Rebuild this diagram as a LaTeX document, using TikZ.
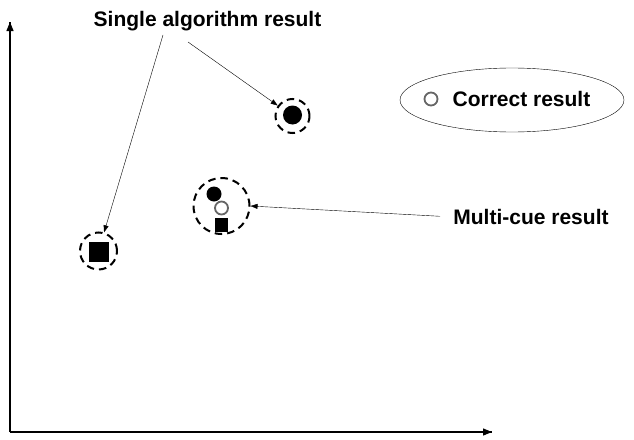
\documentclass[tikz,border=0pt]{standalone}
\usepackage{fontspec}
\setmainfont{Liberation Sans}
\usetikzlibrary{positioning, arrows.meta, decorations.markings, shapes.geometric}
\definecolor{ringgray}{HTML}{666666}

\begin{document}
\begin{tikzpicture}[%
		x=1pt, y=-1pt,
		result/.style={
			circle,
			fill=black,
			inner sep=0pt
		},
		resultsq/.style={
			rectangle,
			fill=black,
			inner sep=0pt
		},
		truth/.style={
			circle,
			draw=ringgray,
			line width=1.8pt,
			inner sep=0pt,
			minimum size=13pt
		},
		ring/.style={
			circle,
			draw,
			line width=2pt,
			dash pattern=on 7.5pt off 5pt,
			inner sep=0pt
		},
		rlabel/.style={
			font=\fontsize{21}{24}\selectfont\bfseries,
			inner sep=0pt
		},
		legendbox/.style={
			ellipse,
			draw,
			thin,
			minimum width=224pt,
			minimum height=64pt
		},
		resultarrow/.style={
			thin,
			decoration={markings,mark=at position 1 with {\arrow{Triangle[length=7pt,width=5pt]}}},
			postaction={decorate}
		},
		axisarrow/.style={
			line width=1.2pt,
			decoration={markings,mark=at position 1 with {\arrow{Triangle[length=9pt,width=7pt]}}},
			postaction={decorate}
		}]

		\useasboundingbox (0,0) rectangle (634,439);

		% AXES

		\coordinate (origin) at (10,432);
		\coordinate (ytop) at (10,22);
		\coordinate (xend) at (492,432);
		\draw[axisarrow] (origin) -- (ytop);
		\draw[axisarrow] (origin) -- (xend);

		% SINGLE ALGORITHM RESULTS

		\node (dotA) [result, minimum size=19pt] at (292.5,115) {};
		\node (ringA) [ring, minimum size=34pt] at (292.5,116) {};

		\node (sqA) [resultsq, minimum size=20pt] at (98.5,252) {};
		\node (ringB) [ring, minimum size=37pt] at (98.5,251) {};

		% MULTI-CUE CLUSTER

		\node (ringC) [ring, minimum size=56pt] at (221.5,206) {};
		\node (dotC) [result, minimum size=15pt] at (214,194) {};
		\node (truthC) [truth] at (221.5,208) {};
		\node (sqC) [resultsq, minimum width=13pt, minimum height=14pt] at (221,225) {};

		% LABELS

		\node (single) [rlabel] at (207.5,21) {Single algorithm result};
		\node (multi) [rlabel] at (531,217) {Multi-cue result};

		% LEGEND

		\node (legend) [legendbox] at (512,100) {};
		\node (truthL) [truth] at (431,99) {};
		\node (correct) [rlabel, right=14pt of truthL] {Correct result};

		% LABEL LINES

		\coordinate (s1) at (163,35);
		\coordinate (s2) at (188,42);
		\draw[resultarrow, shorten >=5pt] (s1) -- (ringB);
		\draw[resultarrow, shorten >=5pt] (s2) -- (ringA);
		\draw[resultarrow, shorten <=13pt, shorten >=5pt] (multi.west) -- (ringC.east);
\end{tikzpicture}
\end{document}
